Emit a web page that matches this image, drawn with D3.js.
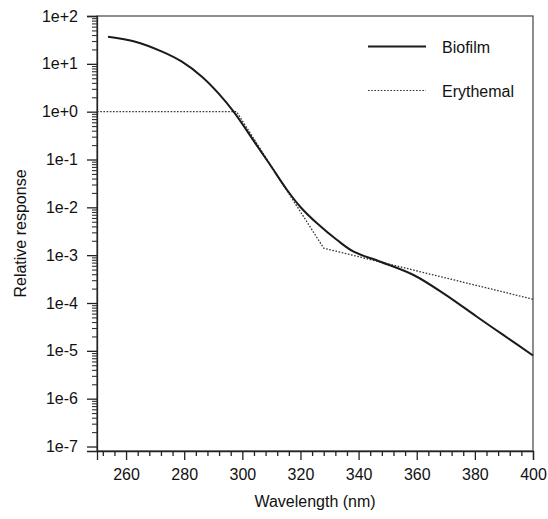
<!DOCTYPE html>
<html>
<head>
<meta charset="utf-8">
<script src="https://cdn.jsdelivr.net/npm/d3@7"></script>
<style>
  body { margin: 0; background: #fff; }
  text { font-family: "Liberation Sans", Arial, sans-serif; fill: #111; }
</style>
</head>
<body>
<script>
// data
var biofilmWl = [253.8, 263.2, 272.4, 279.2, 286.1, 291.8, 297.0, 304.5,
    309.6, 315.4, 319.9, 325.7, 332.6, 338.3, 347.5, 358.9, 369.2, 380.7,
    390, 400];
var biofilmVal = [36.9, 29, 18, 11.1, 5.4, 2.42, 1.0, 0.218, 0.0767, 0.023,
    0.0103, 0.00463, 0.00207, 0.00118, 0.00073, 3.85e-4, 1.59e-4, 5.16e-5,
    2.1e-5, 8e-6];
var erythWl = [250, 298, 328, 400];
var erythVal = [1, 1, 0.0014, 0.00012];
var xTicks = [260, 280, 300, 320, 340, 360, 380, 400];
var yTickLabels = ["1e+2", "1e+1", "1e+0", "1e-1", "1e-2", "1e-3", "1e-4",
    "1e-5", "1e-6", "1e-7"];
var yTicks = [1e2, 1e1, 1, 1e-1, 1e-2, 1e-3, 1e-4, 1e-5, 1e-6, 1e-7];

var W = 548, H = 519;
var pLeft = 97, pRight = 533, pTop = 16, pBottom = 451;

var svg = d3.select("body").append("svg")
    .attr("width", W).attr("height", H);

var x = d3.scaleLinear().domain([250, 400]).range([pLeft, pRight]);
var y = d3.scaleLog().domain([Math.pow(10, -7.094), 100])
    .range([pBottom, pTop]);

// frame
svg.append("rect")
    .attr("x", pLeft).attr("y", pTop)
    .attr("width", pRight - pLeft).attr("height", pBottom - pTop)
    .attr("fill", "none").attr("stroke", "#444").attr("stroke-width", 1.2);

// x minor ticks every 4 nm
var xMinor = d3.range(252, 401, 4).filter(function(d) {
    return xTicks.indexOf(d) < 0;
});
svg.append("g")
    .attr("transform", "translate(0," + pBottom + ")")
    .call(d3.axisBottom(x).tickValues(xMinor).tickSize(5).tickFormat(""))
    .call(function(g) { g.select(".domain").remove(); })
    .selectAll("line").attr("stroke", "#222").attr("stroke-width", 1.3);

var xAxis = svg.append("g")
    .attr("transform", "translate(0," + pBottom + ")")
    .call(d3.axisBottom(x).tickValues(xTicks).tickSize(9).tickPadding(9)
        .tickFormat(d3.format("d")));
xAxis.select(".domain").attr("stroke", "#222").attr("stroke-width", 1.3);
xAxis.selectAll("line").attr("stroke", "#222").attr("stroke-width", 1.3);
xAxis.selectAll("text")
    .style("font-family", "Liberation Sans, Arial, sans-serif")
    .style("font-size", "16px").attr("fill", "#111");

// y minor ticks 2..9 per decade
var yMinor = [];
for (var e = -7; e < 2; e++) {
    for (var m = 2; m <= 9; m++) yMinor.push(m * Math.pow(10, e));
}
svg.append("g")
    .attr("transform", "translate(" + pLeft + ",0)")
    .call(d3.axisLeft(y).tickValues(yMinor).tickSize(5).tickFormat(""))
    .call(function(g) { g.select(".domain").remove(); })
    .selectAll("line").attr("stroke", "#333").attr("stroke-width", 1.1);

var yAxis = svg.append("g")
    .attr("transform", "translate(" + pLeft + ",0)")
    .call(d3.axisLeft(y).tickValues(yTicks).tickSize(10).tickPadding(9)
        .tickFormat(function(d, i) { return yTickLabels[i]; }));
yAxis.select(".domain").attr("stroke", "#222").attr("stroke-width", 1.3);
yAxis.selectAll("line").attr("stroke", "#222").attr("stroke-width", 1.3);
yAxis.selectAll("text")
    .style("font-family", "Liberation Sans, Arial, sans-serif")
    .style("font-size", "16px").attr("fill", "#111");

// lines
var line = d3.line()
    .x(function(d) { return x(d[0]); })
    .y(function(d) { return y(d[1]); });

svg.append("path")
    .datum(erythWl.map(function(w, i) { return [w, erythVal[i]]; }))
    .attr("d", line)
    .attr("fill", "none").attr("stroke", "#333")
    .attr("stroke-width", 1.3).attr("stroke-dasharray", "1.6,1.6");

svg.append("path")
    .datum(biofilmWl.map(function(w, i) { return [w, biofilmVal[i]]; }))
    .attr("d", line.curve(d3.curveCatmullRom.alpha(0.5)))
    .attr("fill", "none").attr("stroke", "#1a1a1a")
    .attr("stroke-width", 2);

// legend
var legend = svg.append("g");
legend.append("line").attr("x1", 368).attr("x2", 426)
    .attr("y1", 46.5).attr("y2", 46.5)
    .attr("stroke", "#1a1a1a").attr("stroke-width", 1.8);
legend.append("text").attr("x", 442).attr("y", 52.5)
    .style("font-size", "16px").text("Biofilm");
legend.append("line").attr("x1", 368).attr("x2", 426)
    .attr("y1", 90.5).attr("y2", 90.5)
    .attr("stroke", "#333").attr("stroke-width", 1.2)
    .attr("stroke-dasharray", "1.6,1.6");
legend.append("text").attr("x", 442).attr("y", 96.5)
    .style("font-size", "16px").text("Erythemal");

// axis titles
svg.append("text")
    .attr("x", (pLeft + pRight) / 2).attr("y", 507)
    .attr("text-anchor", "middle")
    .style("font-size", "16px").text("Wavelength (nm)");
svg.append("text")
    .attr("transform", "translate(26," + ((pTop + pBottom) / 2) + ") rotate(-90)")
    .attr("text-anchor", "middle")
    .style("font-size", "16px").text("Relative response");
</script>
</body>
</html>
